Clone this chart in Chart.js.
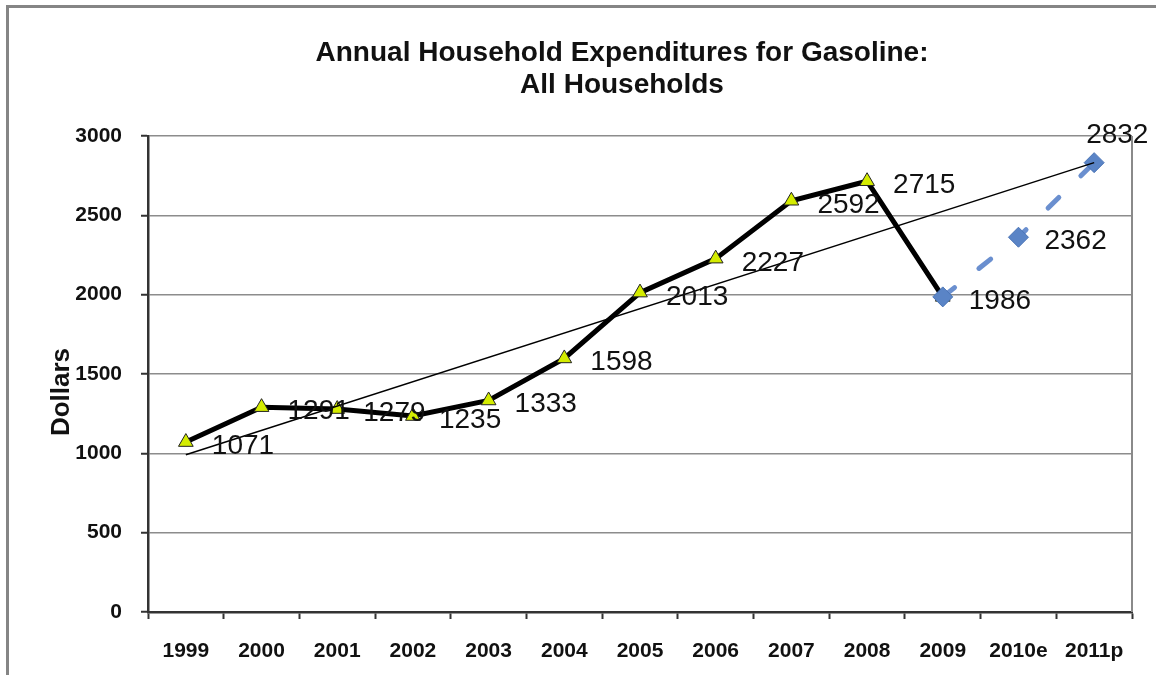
<!DOCTYPE html>
<html><head><meta charset="utf-8">
<script src="https://cdn.jsdelivr.net/npm/chart.js@4"></script>
<style>html,body{margin:0;padding:0;background:#fff;overflow:hidden}#wrap{position:relative;width:1156px;height:675px}</style>
</head><body><div id="wrap"><canvas id="c" width="1156" height="675"></canvas></div>
<script>
const categories = ['1999','2000','2001','2002','2003','2004','2005','2006','2007','2008','2009','2010e','2011p'];
const actualSpending = [1071,1291,1279,1235,1333,1598,2013,2227,2592,2715,1986,null,null];
const projectedSpending = [null,null,null,null,null,null,null,null,null,null,1986,2362,2832];
const trendLine = [991,null,null,null,null,null,null,null,null,null,null,null,2832];
const yTicks = [0,500,1000,1500,2000,2500,3000];
const titleLines = ['Annual Household Expenditures for Gasoline:','All Households'];
const yAxisTitle = 'Dollars';

const FONT = '"Liberation Sans", Arial, Helvetica, sans-serif';

const decor = {
  id: 'decor',
  beforeDraw(chart) {
    const ctx = chart.ctx;
    ctx.save();
    ctx.fillStyle = '#fff';
    ctx.fillRect(0, 0, chart.width, chart.height);
    ctx.strokeStyle = '#858585';
    ctx.lineWidth = 3;
    ctx.beginPath();
    ctx.moveTo(7.5, chart.height);
    ctx.lineTo(7.5, 6.5);
    ctx.lineTo(chart.width, 6.5);
    ctx.stroke();
    ctx.restore();
  },
  afterDatasetsDraw(chart) {
    const ctx = chart.ctx;
    ctx.save();
    ctx.font = '28px ' + FONT;
    ctx.fillStyle = '#111';
    ctx.textAlign = 'left';
    ctx.textBaseline = 'alphabetic';
    const draw = (dsIndex, skip) => {
      const meta = chart.getDatasetMeta(dsIndex);
      const data = chart.data.datasets[dsIndex].data;
      meta.data.forEach((pt, i) => {
        if (data[i] == null || skip.includes(i)) return;
        let dx = 26, dy = 12;
        if (dsIndex === 1 && i === data.length - 1) { dx = -8; dy = -20; }
        ctx.fillText(String(data[i]), pt.x + dx, pt.y + dy);
      });
    };
    draw(0, []);
    draw(1, [10]);
    ctx.restore();
  },
  afterDraw(chart) {
    const ctx = chart.ctx;
    const a = chart.chartArea;
    ctx.save();
    ctx.strokeStyle = '#8a8a8a';
    ctx.lineWidth = 2;
    ctx.beginPath();
    ctx.moveTo(a.right, a.top);
    ctx.lineTo(a.right, a.bottom);
    ctx.stroke();
    ctx.fillStyle = '#111';
    ctx.font = 'bold 28px ' + FONT;
    ctx.textAlign = 'center';
    ctx.textBaseline = 'middle';
    ctx.fillText(titleLines[0], 622, 53);
    ctx.fillText(titleLines[1], 622, 85);
    ctx.translate(62, 392);
    ctx.rotate(-Math.PI / 2);
    ctx.font = 'bold 26px ' + FONT;
    ctx.fillText(yAxisTitle, 0, 0);
    ctx.restore();
  }
};

new Chart(document.getElementById('c'), {
  type: 'line',
  data: {
    labels: categories,
    datasets: [
      {
        label: 'Actual',
        data: actualSpending,
        borderColor: '#000',
        borderWidth: 5,
        pointStyle: 'triangle',
        pointRadius: 8.5,
        pointBackgroundColor: '#d4ec00',
        pointBorderColor: '#222',
        pointBorderWidth: 1,
        tension: 0,
        order: 2
      },
      {
        label: 'Projected',
        data: projectedSpending,
        borderColor: '#6a8fcf',
        borderWidth: 5,
        borderDash: [15, 31],
        borderDashOffset: 0,
        borderCapStyle: 'round',
        pointStyle: 'rectRot',
        pointRadius: 10,
        pointBackgroundColor: '#5a84c6',
        pointBorderColor: '#4a74b6',
        pointBorderWidth: 1,
        tension: 0,
        order: 1
      },
      {
        label: 'Trend',
        data: trendLine,
        borderColor: '#000',
        borderWidth: 1.5,
        pointRadius: 0,
        spanGaps: true,
        tension: 0,
        order: 0
      }
    ]
  },
  options: {
    responsive: false,
    animation: false,
    devicePixelRatio: 1,
    layout: { padding: { top: 136, right: 24, bottom: 0, left: 0 } },
    plugins: { legend: { display: false }, tooltip: { enabled: false }, title: { display: false } },
    scales: {
      x: {
        type: 'category',
        offset: true,
        grid: { offset: true, drawOnChartArea: false, drawTicks: true, tickLength: 7, tickColor: '#333', tickWidth: 2 },
        border: { color: '#333', width: 2.5 },
        ticks: { font: { family: FONT, size: 21, weight: 'bold' }, color: '#111', padding: 20, maxRotation: 0, autoSkip: false },
        afterFit(s) { s.height = 63; }
      },
      y: {
        min: 0, max: 3000,
        afterBuildTicks(s) { s.ticks = yTicks.map(v => ({ value: v })); },
        grid: { color: '#8c8c8c', lineWidth: 1.5, tickColor: '#333', tickWidth: 2, tickLength: 7 },
        border: { color: '#333', width: 2.5 },
        ticks: { font: { family: FONT, size: 21, weight: 'bold' }, color: '#111', padding: 19, callback: v => String(v) },
        afterFit(s) { s.width = 148; }
      }
    }
  },
  plugins: [decor]
});
</script>
</body></html>
